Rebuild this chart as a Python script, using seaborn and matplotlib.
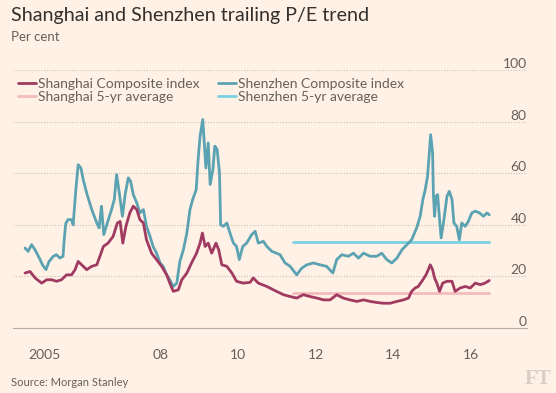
import matplotlib
matplotlib.use('Agg')
import matplotlib.pyplot as plt
import pandas as pd
import seaborn as sns

# Shenzhen Composite trailing P/E (decimal years)
sz_year = [2005.01, 2005.09, 2005.18, 2005.27, 2005.38, 2005.46, 2005.55, 2005.63, 2005.74, 2005.82,
           2005.91, 2005.99, 2006.02, 2006.06, 2006.12, 2006.21, 2006.25, 2006.32, 2006.38, 2006.45,
           2006.51, 2006.61, 2006.73, 2006.86, 2006.92, 2006.98, 2007.04, 2007.13, 2007.24, 2007.31,
           2007.37, 2007.44, 2007.52, 2007.59, 2007.67, 2007.73, 2007.80, 2007.89, 2007.97, 2008.06,
           2008.14, 2008.23, 2008.31, 2008.40, 2008.49, 2008.57, 2008.66, 2008.74, 2008.83, 2008.92,
           2009.00, 2009.09, 2009.18, 2009.26, 2009.33, 2009.42, 2009.47, 2009.52, 2009.59, 2009.63,
           2009.67, 2009.73, 2009.78, 2009.85, 2009.90, 2009.96, 2010.02, 2010.05, 2010.12, 2010.21,
           2010.29, 2010.38, 2010.46, 2010.53, 2010.62, 2010.72, 2010.85, 2010.94, 2011.02, 2011.15,
           2011.24, 2011.37, 2011.49, 2011.58, 2011.71, 2011.84, 2012.01, 2012.14, 2012.27, 2012.44,
           2012.61, 2012.78, 2012.94, 2013.04, 2013.17, 2013.34, 2013.47, 2013.60, 2013.73, 2013.90,
           2014.07, 2014.20, 2014.33, 2014.46, 2014.59, 2014.72, 2014.85, 2014.97, 2015.10, 2015.19,
           2015.26, 2015.32, 2015.38, 2015.43, 2015.46, 2015.51, 2015.53, 2015.56, 2015.60, 2015.64,
           2015.69, 2015.73, 2015.79, 2015.88, 2015.94, 2016.01, 2016.06, 2016.13, 2016.20, 2016.26,
           2016.35, 2016.43, 2016.52, 2016.61, 2016.72, 2016.82, 2016.91, 2016.97]
sz_pe = [31.0, 29.7, 32.3, 30.3, 27.1, 24.5, 22.6, 25.8, 27.8, 28.4,
         27.1, 27.8, 34.3, 40.5, 42.0, 42.0, 40.0, 53.6, 63.3, 62.0,
         57.5, 51.7, 45.9, 40.7, 38.8, 47.2, 36.2, 40.7, 45.9, 49.8,
         59.5, 52.3, 43.3, 51.7, 58.2, 56.9, 51.7, 48.5, 44.6, 45.9,
         39.4, 35.5, 31.6, 29.0, 25.2, 23.9, 20.6, 18.7, 16.1, 17.4,
         25.8, 30.3, 36.8, 45.9, 49.8, 53.6, 65.3, 74.3, 80.8, 71.7,
         62.0, 71.7, 55.6, 61.4, 70.5, 69.2, 60.1, 40.0, 39.4, 40.7,
         36.8, 32.9, 31.6, 26.5, 31.6, 32.9, 36.2, 37.5, 32.9, 33.6,
         31.6, 29.7, 29.0, 28.4, 25.2, 23.9, 20.6, 23.2, 24.5, 25.2,
         24.5, 23.9, 21.3, 26.5, 28.4, 27.8, 29.0, 27.1, 29.0, 27.8,
         27.8, 29.0, 26.5, 25.2, 27.1, 30.3, 32.3, 34.2, 38.8, 43.3,
         49.8, 53.6, 58.8, 69.1, 74.9, 67.9, 52.3, 43.3, 51.0, 51.7,
         42.0, 34.9, 40.7, 51.0, 53.0, 49.8, 40.7, 39.4, 34.2, 40.7,
         39.4, 41.3, 44.6, 45.3, 44.6, 43.3, 44.6, 43.9]

# Shanghai Composite trailing P/E
sh_year = [2005.01, 2005.14, 2005.27, 2005.44, 2005.57, 2005.70, 2005.82, 2005.95, 2006.08, 2006.21,
           2006.30, 2006.38, 2006.47, 2006.60, 2006.73, 2006.86, 2006.94, 2007.03, 2007.15, 2007.28,
           2007.39, 2007.46, 2007.53, 2007.61, 2007.71, 2007.80, 2007.89, 2007.97, 2008.06, 2008.14,
           2008.27, 2008.40, 2008.53, 2008.66, 2008.74, 2008.83, 2008.96, 2009.05, 2009.18, 2009.30,
           2009.43, 2009.52, 2009.58, 2009.65, 2009.73, 2009.82, 2009.93, 2010.00, 2010.08, 2010.21,
           2010.34, 2010.46, 2010.63, 2010.81, 2010.89, 2011.02, 2011.24, 2011.41, 2011.49, 2011.67,
           2011.84, 2012.01, 2012.18, 2012.35, 2012.53, 2012.70, 2012.87, 2013.04, 2013.21, 2013.38,
           2013.56, 2013.73, 2013.90, 2014.07, 2014.24, 2014.42, 2014.59, 2014.76, 2014.89, 2014.97,
           2015.06, 2015.14, 2015.26, 2015.34, 2015.40, 2015.45, 2015.51, 2015.56, 2015.62, 2015.69,
           2015.77, 2015.88, 2016.01, 2016.09, 2016.22, 2016.35, 2016.48, 2016.61, 2016.74, 2016.86,
           2016.97]
sh_pe = [21.3, 21.9, 19.4, 17.4, 18.7, 18.7, 18.1, 18.7, 20.6, 20.6,
         22.6, 25.8, 24.5, 22.6, 23.9, 24.5, 27.8, 31.6, 32.9, 35.5,
         40.7, 41.3, 32.9, 39.4, 44.6, 47.2, 45.9, 42.0, 40.7, 34.2,
         29.0, 26.5, 23.9, 20.6, 17.4, 14.2, 14.8, 18.7, 21.3, 25.2,
         29.0, 32.9, 36.8, 31.6, 32.9, 29.0, 32.9, 30.3, 24.5, 23.9,
         21.3, 18.1, 17.4, 17.7, 19.4, 17.4, 16.1, 14.8, 14.2, 12.9,
         12.2, 11.6, 12.9, 12.2, 11.6, 10.9, 10.9, 12.9, 11.6, 10.9,
         10.3, 10.9, 10.3, 9.9, 9.6, 9.6, 10.3, 10.9, 11.6, 14.2,
         15.5, 16.1, 18.7, 20.6, 22.6, 24.5, 22.6, 19.4, 17.4, 14.2,
         17.4, 18.1, 18.1, 14.2, 15.5, 16.1, 15.5, 17.4, 16.8, 17.4,
         18.4]

# 5-year averages
avg_span = [2011.92, 2016.97]
sz_avg = 33.5
sh_avg = 13.4

year_ticks = list(range(2005, 2018))
label_pos = [2005.5, 2008.5, 2010.5, 2012.5, 2014.5, 2016.5]
label_txt = ['2005', '08', '10', '12', '14', '16']
y_ticks = [0, 20, 40, 60, 80, 100]

bg = '#fff1e5'
c_sh = '#a13a60'
c_sz = '#5ba2b2'
c_sh_avg = '#f4bcbc'
c_sz_avg = '#79d2e1'
grey = '#66605c'

sns.set_theme(style='white', rc={'figure.facecolor': bg, 'axes.facecolor': bg})
plt.rcParams['font.family'] = ['Lato', 'DejaVu Sans']

fig = plt.figure(figsize=(5.56, 3.93), dpi=100)
ax = fig.add_axes([0.024, 0.1654, 0.923, 0.6565])

sz = pd.DataFrame({'year': sz_year, 'pe': sz_pe})
sh = pd.DataFrame({'year': sh_year, 'pe': sh_pe})
avg = pd.DataFrame({'year': avg_span, 'sz': [sz_avg] * 2, 'sh': [sh_avg] * 2})

sns.lineplot(data=avg, x='year', y='sh', ax=ax, color=c_sh_avg, linewidth=2.0,
             label='Shanghai 5-yr average', zorder=2)
sns.lineplot(data=avg, x='year', y='sz', ax=ax, color=c_sz_avg, linewidth=2.0,
             label='Shenzhen 5-yr average', zorder=2)
sns.lineplot(data=sz, x='year', y='pe', ax=ax, color=c_sz, linewidth=2.0,
             label='Shenzhen Composite index', zorder=3)
sns.lineplot(data=sh, x='year', y='pe', ax=ax, color=c_sh, linewidth=2.0,
             label='Shanghai Composite index', zorder=4)

ax.set_xlim(2004.71, 2017.93)
ax.set_ylim(0, 100)
ax.set_xlabel('')
ax.set_ylabel('')

# gridlines
ax.set_yticks(y_ticks)
ax.yaxis.grid(True, linestyle=(0, (1, 1.5)), color='#c9c0b6', linewidth=0.8)
ax.xaxis.grid(False)
ax.set_axisbelow(True)
ax.yaxis.tick_right()
ax.tick_params(axis='y', length=0, pad=0, labelsize=10, labelcolor=grey)
for lab in ax.get_yticklabels():
    lab.set_ha('right')
    lab.set_va('bottom')

ax.set_xticks(year_ticks)
ax.set_xticklabels([''] * len(year_ticks))
ax.set_xticks(label_pos, minor=True)
ax.set_xticklabels(label_txt, minor=True)
ax.tick_params(axis='x', which='major', length=5, width=0.8, color='#b5ada5', direction='out')
ax.tick_params(axis='x', which='minor', length=0, pad=15, labelsize=10, labelcolor=grey)

for s in ['top', 'left', 'right']:
    ax.spines[s].set_visible(False)
ax.spines['bottom'].set_color('#b5ada5')
ax.spines['bottom'].set_linewidth(0.8)

h, l = ax.get_legend_handles_labels()
order = [3, 0, 2, 1]
ax.legend([h[i] for i in order], [l[i] for i in order], ncol=2, frameon=False,
          loc='upper left', bbox_to_anchor=(18 / 556, 1 - 78 / 393),
          bbox_transform=fig.transFigure, fontsize=10, labelcolor=grey,
          handlelength=1.3, handletextpad=0.15, columnspacing=1.3,
          labelspacing=0.05, borderpad=0, borderaxespad=0)

fig.text(11 / 556, 1 - 7 / 393, 'Shanghai and Shenzhen trailing P/E trend',
         fontsize=14.2, color='#33302e', va='top', ha='left')
fig.text(11 / 556, 1 - 31 / 393, 'Per cent', fontsize=9.5, color=grey, va='top', ha='left')
fig.text(11 / 556, 1 - 377 / 393, 'Source: Morgan Stanley', fontsize=8, color=grey,
         va='top', ha='left')
fig.text(551 / 556, 1 - 369 / 393, 'FT', fontsize=15, color='#d8cec3', va='top', ha='right',
         family=['Liberation Serif', 'DejaVu Serif'], weight='bold')

fig.savefig('out.png', dpi=100, facecolor=bg)
